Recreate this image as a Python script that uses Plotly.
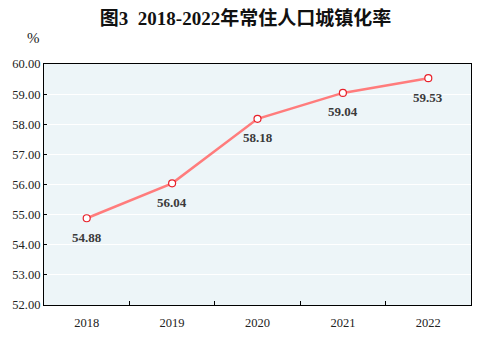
import plotly.graph_objects as go

years = ["2018", "2019", "2020", "2021", "2022"]
rates = [54.88, 56.04, 58.18, 59.04, 59.53]
ytick_vals = [52, 53, 54, 55, 56, 57, 58, 59, 60]
ytick_text = ["52.00", "53.00", "54.00", "55.00", "56.00", "57.00", "58.00", "59.00", "60.00"]

serif = "Liberation Serif, Times New Roman, serif"

fig = go.Figure()
fig.add_trace(go.Scatter(
    x=years, y=rates, mode="lines+markers",
    line=dict(color="#FF7C7C", width=2.5),
    marker=dict(size=7, color="white", line=dict(color="#E8202A", width=1.2)),
    cliponaxis=False, showlegend=False,
))
for i, v in enumerate(rates):
    fig.add_annotation(x=i, y=v, xref="x", yref="y", text=f"<b>{v:.2f}</b>", showarrow=False,
                       yshift=-19, font=dict(family=serif, size=13, color="#3A3A3A"))

fig.update_layout(
    width=491, height=339,
    margin=dict(l=44, r=20, t=64, b=34, autoexpand=False),
    paper_bgcolor="white", plot_bgcolor="#EDF5F8",
    title=dict(text="<b>图3  2018-2022年常住人口城镇化率</b>", x=0.5, xanchor="center",
               y=1 - 18 / 339, yanchor="middle",
               font=dict(family="Liberation Serif, Noto Sans CJK SC, serif", size=19, color="#111")),
    font=dict(family=serif, size=12, color="#222"),
)
fig.update_xaxes(type="category", range=[-0.5, 4.5], tickson="boundaries", ticks="inside", ticklen=4,
                 tickcolor="black", showline=True, linecolor="black", linewidth=1.2,
                 mirror=True, showgrid=False, ticklabelstandoff=6, automargin=False,
                 tickfont=dict(family=serif, size=12.5, color="#222"))
fig.update_yaxes(range=[52, 60], tickvals=ytick_vals, ticktext=ytick_text,
                 ticks="inside", ticklen=3, tickcolor="black", showline=True,
                 linecolor="black", linewidth=1.2, mirror=True, automargin=False,
                 showgrid=True, gridcolor="white", gridwidth=1, zeroline=False,
                 tickfont=dict(family=serif, size=12.5, color="#222"))
fig.add_annotation(text="%", xref="paper", yref="paper", showarrow=False,
                   x=(33 - 44) / 427, y=(305 - 38) / 241, xanchor="center", yanchor="middle",
                   font=dict(family=serif, size=15, color="#222"))
fig.write_html("out.html")
